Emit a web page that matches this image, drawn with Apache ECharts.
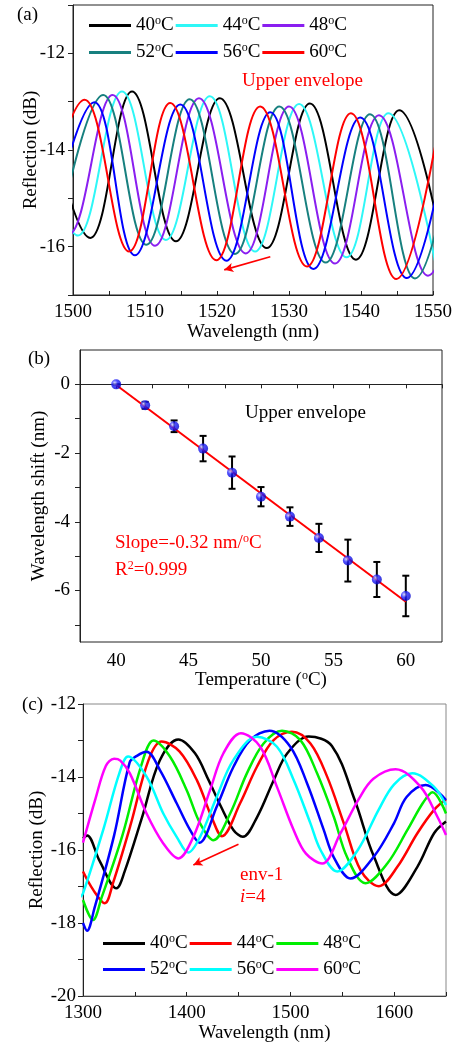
<!DOCTYPE html>
<html><head><meta charset="utf-8">
<script src="https://cdn.jsdelivr.net/npm/echarts@6/dist/echarts.min.js"></script>
<style>html,body{margin:0;padding:0;background:#fff}#c{width:460px;height:1045px}</style>
</head><body><div id="c"></div>
<script>
const FONT = "'Liberation Serif','Times New Roman',serif";
const FS = 19;

// ---------- Panel (a): upper envelope spectra ----------
const aTemps = ['40', '44', '48', '52', '56', '60'];
const aColors = ['#000000', '#2EF7F7', '#8A1EF0', '#17807F', '#0000FF', '#FF0000'];
const a40 = [[1496.0,-12.9],[1502.4,-15.82],[1508.2,-12.79],[1514.3,-15.89],[1520.4,-12.93],[1526.9,-16.03],[1532.9,-13.04],[1539.3,-16.27],[1545.3,-13.18],[1552.2,-16.7]];
const a44 = [[1494.6,-13.0],[1500.7,-15.77],[1506.8,-12.79],[1512.9,-15.86],[1519.0,-12.89],[1525.3,-16.10],[1531.4,-13.05],[1538.0,-16.22],[1543.8,-13.24],[1550.6,-16.55]];
const a48 = [[1493.2,-12.9],[1499.4,-15.75],[1505.5,-12.86],[1511.4,-15.98],[1517.5,-12.93],[1524.0,-16.14],[1530.0,-13.10],[1536.4,-16.35],[1542.5,-13.28],[1549.3,-16.60],[1555.4,-13.3]];
const a52 = [[1497.9,-15.8],[1504.2,-12.86],[1510.2,-15.96],[1516.2,-12.95],[1522.5,-16.15],[1528.65,-13.10],[1535.1,-16.33],[1541.25,-13.26],[1547.5,-16.66],[1553.7,-13.3]];
const a56 = [[1496.6,-15.75],[1502.96,-13.01],[1508.6,-16.18],[1514.9,-13.06],[1521.3,-16.29],[1527.4,-13.22],[1533.4,-16.46],[1539.9,-13.33],[1546.35,-16.65],[1552.5,-13.35]];
const a60 = [[1495.4,-15.7],[1501.6,-12.96],[1507.8,-16.10],[1513.5,-13.03],[1519.9,-16.28],[1526.0,-13.10],[1532.5,-16.41],[1538.6,-13.24],[1544.9,-16.67],[1551.0,-13.3]];
const aSeriesData = [a40, a44, a48, a52, a56, a60];
const aArrow = [[1527.4,-16.21],[1521.0,-16.48]];

// ---------- Panel (b): wavelength shift vs temperature ----------
const bTemps = [40, 42, 44, 46, 48, 50, 52, 54, 56, 58, 60];
const bShift = [0, -0.61, -1.22, -1.87, -2.57, -3.27, -3.85, -4.47, -5.13, -5.68, -6.16];
const bErr = [0, 0.1, 0.17, 0.37, 0.47, 0.28, 0.27, 0.41, 0.61, 0.51, 0.59];
const bFit = [[40, -0.02], [60, -6.33]];

// ---------- Panel (c): env-1 spectra ----------
const cTemps = ['40', '44', '48', '52', '56', '60'];
const cColors = ['#000000', '#FF0000', '#00EE00', '#0000FF', '#00FFFF', '#FF00FF'];
const c40 = [[1300,-15.68],[1304,-15.6],[1316,-16.3],[1332.3,-17.05],[1340,-16.6],[1357,-15.1],[1374,-13.55],[1391.9,-12.97],[1408,-13.35],[1421,-14.08],[1433,-14.81],[1445,-15.45],[1454.1,-15.64],[1468,-15.09],[1484,-14.08],[1497,-13.35],[1517.6,-12.89],[1540,-13.15],[1562,-14.63],[1580.5,-16.18],[1601.4,-17.23],[1622.4,-16.46],[1638.5,-15.54],[1650,-15.22]];
const c44 = [[1300,-16.59],[1310,-17.1],[1321,-17.46],[1329,-16.9],[1346,-15.3],[1363,-13.55],[1375.8,-13.03],[1393,-13.3],[1410,-14.1],[1424,-15.1],[1434,-15.62],[1451.5,-14.72],[1467.7,-13.72],[1483.8,-12.99],[1501.5,-12.76],[1519.3,-13.08],[1535.4,-13.99],[1551.5,-15.27],[1567.6,-16.55],[1585.3,-16.99],[1603.1,-16.46],[1622.4,-15.54],[1638.5,-14.9],[1650,-14.61]];
const c48 = [[1300,-17.37],[1309.7,-17.92],[1318,-17.3],[1338,-15.6],[1356,-13.7],[1368,-13.0],[1383.8,-13.44],[1400,-14.36],[1412.9,-15.27],[1425.7,-15.73],[1441.9,-15.0],[1458,-13.9],[1474.1,-13.08],[1491.9,-12.73],[1509.6,-12.99],[1525.7,-13.9],[1541.8,-15.09],[1554.7,-16.2],[1572.4,-16.91],[1593.4,-16.37],[1612.8,-15.45],[1628,-14.7],[1637,-14.42],[1650,-15.0]];
const c52 = [[1300,-18.0],[1303.9,-18.21],[1311,-17.6],[1330,-15.6],[1345,-13.6],[1352,-13.42],[1361.3,-13.31],[1374.2,-13.81],[1390.3,-14.72],[1403.2,-15.45],[1412.2,-15.8],[1429,-14.81],[1445.1,-13.72],[1461.2,-12.99],[1479.9,-12.73],[1499.9,-13.17],[1516,-14.17],[1532.1,-15.45],[1541.8,-16.2],[1557.9,-16.78],[1580.5,-16.18],[1599.8,-15.27],[1612,-14.55],[1630.4,-14.22],[1650,-14.63]];
const c56 = [[1297,-17.3],[1300,-17.19],[1320,-15.4],[1335,-13.9],[1343.5,-13.44],[1361.3,-13.99],[1377.4,-15.0],[1390.3,-15.64],[1401.5,-16.07],[1412.9,-15.64],[1429,-14.54],[1445.1,-13.53],[1467.7,-12.9],[1487,-13.17],[1503.1,-14.08],[1519.3,-15.27],[1529,-16.0],[1545.1,-16.59],[1565,-16.0],[1585,-14.9],[1600,-14.2],[1617.5,-13.9],[1638.5,-14.27],[1650,-14.77]];
const c60 = [[1300,-15.8],[1312,-14.6],[1322,-13.7],[1330,-13.5],[1336,-13.55],[1345.2,-13.9],[1361.3,-15.0],[1377.4,-15.82],[1391.9,-16.23],[1406.4,-15.64],[1422.5,-14.36],[1435.4,-13.35],[1452.2,-12.8],[1470.9,-13.17],[1487,-14.27],[1503.1,-15.45],[1515,-16.1],[1530.6,-16.37],[1548.3,-15.54],[1566,-14.6],[1580,-14.05],[1601.4,-13.79],[1625.6,-14.27],[1641.7,-15.09],[1650,-15.59]];
const cSeriesData = [c40, c44, c48, c52, c56, c60];
const cArrow = [[1449.9,-15.84],[1406.4,-16.41]];

// ---------- helpers ----------
const supRich = (color) => ({ s: { fontSize: 12, fontFamily: FONT, color: color, fill: color, padding: [0, 0, 9, 0] } });
const tickLabel = { fontFamily: FONT, fontSize: FS, color: '#000' };
const axisLine = { show: true, lineStyle: { color: '#222', width: 1 } };
const nameStyle = { fontFamily: FONT, fontSize: FS, color: '#000' };

function legendFor(prefix, names, left, top) {
  return {
    data: names.map(n => prefix + n), left: left, top: top, padding: 0,
    icon: 'rect', itemWidth: 42, itemHeight: 3, itemGap: 2, orient: 'horizontal',
    selectedMode: false,
    formatter: name => name.slice(1) + '{s|o}C',
    textStyle: { fontFamily: FONT, fontSize: FS, color: '#000', lineHeight: 20, rich: supRich('#000') }
  };
}

const series = [];
aSeriesData.forEach((d, i) => {
  const s = {
    name: 'a' + aTemps[i], type: 'line', xAxisIndex: 0, yAxisIndex: 0,
    data: d, smooth: 0.4, showSymbol: false, symbol: 'none',
    lineStyle: { color: aColors[i], width: 2 }, itemStyle: { color: aColors[i] },
    clip: true, z: 2 + i
  };
  if (i === aSeriesData.length - 1) {
    s.markLine = {
      silent: true, animation: false, symbol: ['none', 'arrow'], symbolSize: [7, 9],
      label: { show: false }, lineStyle: { color: '#FF0000', width: 1.6, type: 'solid' },
      data: [[{ coord: aArrow[0] }, { coord: aArrow[1] }]]
    };
  }
  series.push(s);
});

series.push({
  type: 'custom', xAxisIndex: 1, yAxisIndex: 1, z: 3,
  data: bTemps.map((t, i) => [t, bShift[i] - bErr[i], bShift[i] + bErr[i]]),
  renderItem: function (params, api) {
    const x = api.value(0);
    const top = api.coord([x, api.value(2)]);
    const bot = api.coord([x, api.value(1)]);
    const w = 3.5;
    const st = { stroke: '#000', lineWidth: 2 };
    return { type: 'group', children: [
      { type: 'line', shape: { x1: top[0], y1: top[1], x2: bot[0], y2: bot[1] }, style: st },
      { type: 'line', shape: { x1: top[0] - w, y1: top[1], x2: top[0] + w, y2: top[1] }, style: st },
      { type: 'line', shape: { x1: bot[0] - w, y1: bot[1], x2: bot[0] + w, y2: bot[1] }, style: st }
    ] };
  }
});
series.push({
  type: 'line', xAxisIndex: 1, yAxisIndex: 1, data: bFit, showSymbol: false, symbol: 'none',
  lineStyle: { color: '#FF0000', width: 2 }, z: 4
});
series.push({
  type: 'scatter', xAxisIndex: 1, yAxisIndex: 1, z: 5,
  data: bTemps.map((t, i) => [t, bShift[i]]), symbolSize: 10,
  itemStyle: { color: { type: 'radial', x: 0.35, y: 0.35, r: 0.75,
    colorStops: [{ offset: 0, color: '#D0D0FF' }, { offset: 0.4, color: '#2020FF' }, { offset: 1, color: '#0000C0' }] } }
});

cSeriesData.forEach((d, i) => {
  const s = {
    name: 'c' + cTemps[i], type: 'line', xAxisIndex: 2, yAxisIndex: 2,
    data: d, smooth: 0.35, showSymbol: false, symbol: 'none',
    lineStyle: { color: cColors[i], width: 2.5 }, itemStyle: { color: cColors[i] },
    clip: true, z: 2 + i
  };
  if (i === cSeriesData.length - 1) {
    s.markLine = {
      silent: true, animation: false, symbol: ['none', 'arrow'], symbolSize: [7, 9],
      label: { show: false }, lineStyle: { color: '#FF0000', width: 1.6, type: 'solid' },
      data: [[{ coord: cArrow[0] }, { coord: cArrow[1] }]]
    };
  }
  series.push(s);
});

function txt(text, x, y, color, rich) {
  return { type: 'text', x: x, y: y, silent: true, z: 100,
    style: { text: text, fill: color, font: FS + 'px ' + FONT,
      verticalAlign: 'middle', align: 'left', rich: rich } };
}

const option = {
  animation: false,
  backgroundColor: '#fff',
  grid: [
    { left: 73, top: 5, width: 360, height: 290, show: true, borderColor: '#222', borderWidth: 1, backgroundColor: 'transparent' },
    { left: 80, top: 350, width: 362, height: 292, show: true, borderColor: '#222', borderWidth: 1, backgroundColor: 'transparent' },
    { left: 83, top: 704, width: 363, height: 292, show: true, borderColor: '#888', borderWidth: 1, backgroundColor: 'transparent' }
  ],
  xAxis: [
    { gridIndex: 0, type: 'value', min: 1500, max: 1550, interval: 5,
      axisLine: axisLine, splitLine: { show: false },
      axisTick: { show: true, inside: true, length: 4, lineStyle: { color: '#222' } },
      axisLabel: Object.assign({ margin: 8, formatter: v => (v % 10 === 0 ? String(v) : '') }, tickLabel),
      name: 'Wavelength (nm)', nameLocation: 'middle', nameGap: 28, nameMoveOverlap: false, nameTextStyle: nameStyle },
    { gridIndex: 1, type: 'value', min: 37.5, max: 62.5, interval: 2.5,
      axisLine: axisLine, splitLine: { show: false },
      axisTick: { show: true, inside: false, length: 4, lineStyle: { color: '#222' } },
      axisLabel: Object.assign({ margin: 10, formatter: v => (v % 5 === 0 ? String(v) : '') }, tickLabel),
      name: 'Temperature ({s|o}C)', nameLocation: 'middle', nameGap: 28, nameMoveOverlap: false,
      nameTextStyle: Object.assign({ rich: supRich('#000') }, nameStyle) },
    { gridIndex: 2, type: 'value', min: 1300, max: 1650, interval: 50,
      axisLine: { show: true, lineStyle: { color: '#444', width: 1 } }, splitLine: { show: false },
      axisTick: { show: true, inside: true, length: 4, lineStyle: { color: '#222' } },
      axisLabel: Object.assign({ margin: 8, formatter: v => (v % 100 === 0 ? String(v) : '') }, tickLabel),
      name: 'Wavelength (nm)', nameLocation: 'middle', nameGap: 28, nameMoveOverlap: false, nameTextStyle: nameStyle }
  ],
  yAxis: [
    { gridIndex: 0, type: 'value', min: -17, max: -11, interval: 1,
      axisLine: axisLine, splitLine: { show: false },
      axisTick: { show: true, inside: false, length: 5, lineStyle: { color: '#222' } },
      axisLabel: Object.assign({ margin: 8, formatter: v => (Math.round(v) % 2 === 0 ? String(v) : '') }, tickLabel),
      name: 'Reflection (dB)', nameLocation: 'middle', nameGap: 32, nameMoveOverlap: false, nameTextStyle: nameStyle },
    { gridIndex: 1, type: 'value', min: -7.5, max: 1, interval: 0.5,
      axisLine: axisLine, splitLine: { show: false },
      axisTick: { show: true, inside: false, length: 5, lineStyle: { color: '#222' }, customValues: [-7, -6, -5, -4, -3, -2, -1, 0] },
      axisLabel: Object.assign({ margin: 10, customValues: [-6, -4, -2, 0] }, tickLabel),
      name: 'Wavelength shift (nm)', nameLocation: 'middle', nameGap: 31, nameMoveOverlap: false, nameTextStyle: nameStyle },
    { gridIndex: 2, type: 'value', min: -20, max: -12, interval: 1,
      axisLine: axisLine, splitLine: { show: false },
      axisTick: { show: true, inside: false, length: 5, lineStyle: { color: '#222' } },
      axisLabel: Object.assign({ margin: 7, formatter: v => (Math.round(v) % 2 === 0 ? String(v) : '') }, tickLabel),
      name: 'Reflection (dB)', nameLocation: 'middle', nameGap: 36, nameMoveOverlap: false, nameTextStyle: nameStyle }
  ],
  legend: [
    legendFor('a', aTemps.slice(0, 3), 89, 15),
    legendFor('a', aTemps.slice(3, 6), 89, 42),
    legendFor('c', cTemps.slice(0, 3), 103, 933),
    legendFor('c', cTemps.slice(3, 6), 103, 959)
  ],
  graphic: [
    txt('(a)', 17, 15, '#000'),
    txt('Upper envelope', 242, 81, '#FF0000'),
    txt('(b)', 28, 359, '#000'),
    txt('Upper envelope', 245, 413, '#000'),
    txt('Slope=-0.32 nm/{s|o}C', 115, 543, '#FF0000', supRich('#FF0000')),
    txt('R{s|2}=0.999', 115, 570, '#FF0000', supRich('#FF0000')),
    txt('(c)', 22, 705, '#000'),
    txt('env-1', 240, 875, '#FF0000'),
    txt('{i|i}=4', 240, 897, '#FF0000',
      { i: { fontStyle: 'italic', fontSize: FS, fontFamily: FONT, fill: '#FF0000', color: '#FF0000' } })
  ],
  series: series
};

const chart = echarts.init(document.getElementById('c'), null, { renderer: 'canvas' });
chart.setOption(option);
</script></body></html>
